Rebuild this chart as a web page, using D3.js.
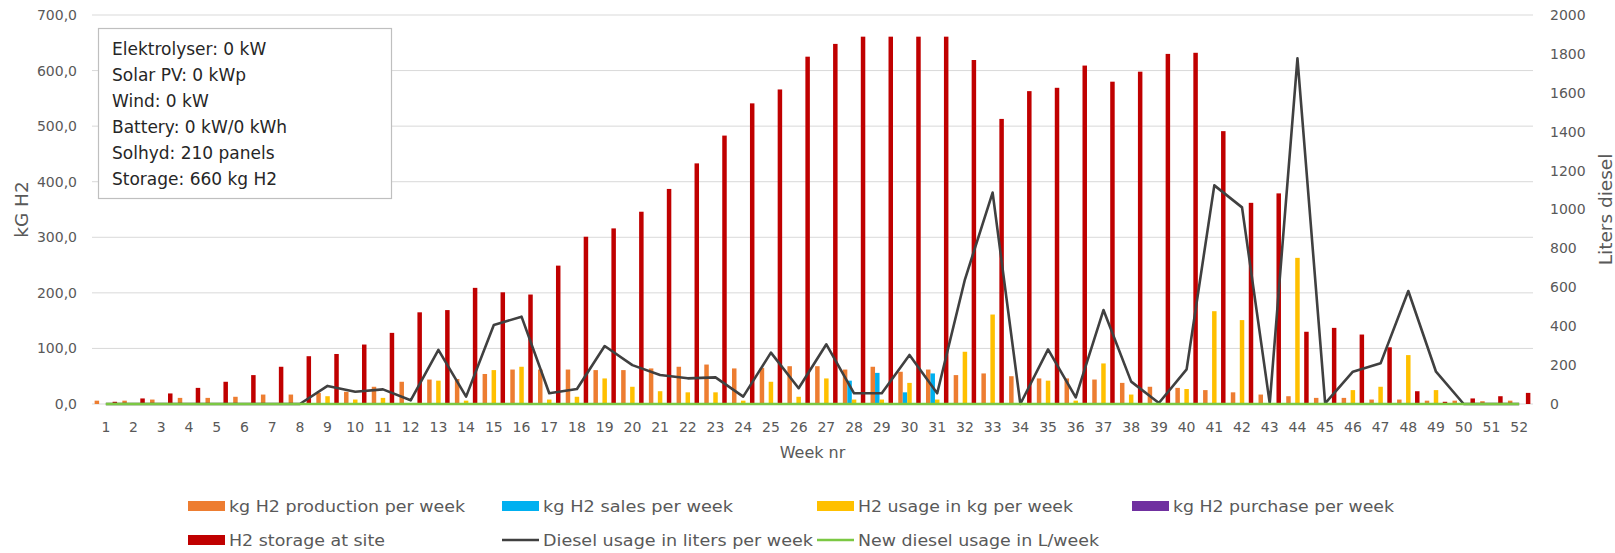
<!DOCTYPE html>
<html>
<head>
<meta charset="utf-8">
<script src="https://cdn.jsdelivr.net/npm/d3@7/dist/d3.min.js"></script>
<style>
  html, body { margin: 0; padding: 0; background: #fff; }
  svg { display: block; }
  .ax text { font-family: "DejaVu Sans", Verdana, sans-serif; font-size: 14px; fill: #595959; }
  .legend text { font-family: "DejaVu Sans", Verdana, sans-serif; font-size: 16.5px; fill: #595959; }
</style>
</head>
<body>
<svg id="chart" width="1615" height="553"></svg>
<script>
const weeks = ["1","2","3","4","5","6","7","8","9","10","11","12","13","14","15","16","17","18","19","20","21","22","23","24","25","26","27","28","29","30","31","32","33","34","35","36","37","38","39","40","41","42","43","44","45","46","47","48","49","50","51","52"];

const production = [6,6,8,11,11,13,17,17,20,22,31,40,44,45,54,62,62,62,61,61,64,67,71,64,65,68,68,62,67,58,62,52,55,50,46,46,44,38,31,29,25,21,17,14,11,11,8,8,6,6,5,6];
const sales      = [0,0,0,0,0,0,0,0,0,0,0,0,0,0,0,0,0,0,0,0,0,0,0,0,0,0,0,42,56,21,55,0,0,0,0,0,0,0,0,0,0,0,0,0,0,0,0,0,0,0,0,0];
const usage      = [0,0,0,0,0,0,0,0,14,8,11,0,42,6,61,67,8,13,46,31,23,21,21,6,40,13,46,8,8,38,8,94,161,0,42,6,73,17,0,27,167,151,0,263,0,25,31,88,25,0,0,0];
const purchase   = [0,0,0,0,0,0,0,0,0,0,0,0,0,0,0,0,0,0,0,0,0,0,0,0,0,0,0,0,0,0,0,0,0,0,0,0,0,0,0,0,0,0,0,0,0,0,0,0,0,0,0,0];
const storage    = [4,10,19,29,40,52,67,86,90,107,128,165,169,209,201,197,249,301,316,346,387,433,483,541,566,625,648,661,661,661,661,619,513,563,569,609,580,598,630,632,491,362,379,130,137,125,102,23,4,10,14,20];
const diesel     = [0,0,0,0,0,0,0,0,93,63,75,19,278,38,406,449,55,77,298,200,149,132,137,38,264,81,307,55,55,252,55,640,1087,0,281,34,483,115,5,178,1124,1011,3,1777,3,166,209,581,166,0,0,0];
const newDiesel  = [0,0,0,0,0,0,0,0,0,0,0,0,0,0,0,0,0,0,0,0,0,0,0,0,0,0,0,0,0,0,0,0,0,0,0,0,0,0,0,0,0,0,0,0,0,0,0,0,0,0,0,0];

const leftTicks  = [0,100,200,300,400,500,600,700];
const rightTicks = [0,200,400,600,800,1000,1200,1400,1600,1800,2000];

const barSeries = [
  {name: "kg H2 production per week", values: production, color: "#ED7D31"},
  {name: "kg H2 sales per week",      values: sales,      color: "#00B0F0"},
  {name: "H2 usage in kg per week",   values: usage,      color: "#FFC000"},
  {name: "kg H2 purchase per week",   values: purchase,   color: "#7030A0"},
  {name: "H2 storage at site",        values: storage,    color: "#C00000"}
];
const lineSeries = [
  {name: "Diesel usage in liters per week", values: diesel,    color: "#404040"},
  {name: "New diesel usage in L/week",      values: newDiesel, color: "#7BC843"}
];
const infoLines = ["Elektrolyser: 0 kW","Solar PV: 0 kWp","Wind: 0 kW","Battery: 0 kW/0 kWh","Solhyd: 210 panels","Storage: 660 kg H2"];

const svg = d3.select("#chart");
const L = 92, R = 1533, T = 15, B = 404;

const x = d3.scaleBand().domain(weeks).range([L, R]).paddingInner(0.19).paddingOuter(0.095);
const xs = d3.scaleBand().domain(barSeries.map(s => s.name)).range([0, x.bandwidth()]).padding(0);
const yL = d3.scaleLinear().domain([0, 700]).range([B, T]);
const yR = d3.scaleLinear().domain([0, 2000]).range([B, T]);

// gridlines
svg.append("g").selectAll("line").data(leftTicks).join("line")
  .attr("x1", L).attr("x2", R)
  .attr("y1", d => yL(d)).attr("y2", d => yL(d))
  .attr("stroke", "#d9d9d9").attr("stroke-width", 1);

// bars
barSeries.forEach(s => {
  svg.append("g").selectAll("rect").data(s.values).join("rect")
    .attr("x", (d, i) => x(weeks[i]) + xs(s.name))
    .attr("width", xs.bandwidth())
    .attr("y", d => yL(d))
    .attr("height", d => B - yL(d))
    .attr("fill", s.color);
});

// lines (right axis)
lineSeries.forEach(s => {
  const line = d3.line()
    .x((d, i) => x(weeks[i]) + x.bandwidth() / 2)
    .y(d => yR(d));
  svg.append("path").datum(s.values)
    .attr("d", line)
    .attr("fill", "none")
    .attr("stroke", s.color)
    .attr("stroke-width", 2.6)
    .attr("stroke-linejoin", "round");
});

// axes
const fmt = d => d3.format(".1f")(d).replace(".", ",");
const gl = svg.append("g").attr("class", "ax").attr("transform", `translate(${L},0)`)
  .call(d3.axisLeft(yL).tickValues(leftTicks).tickFormat(fmt).tickSize(0).tickPadding(15));
gl.select(".domain").remove();

const gr = svg.append("g").attr("class", "ax").attr("transform", `translate(${R},0)`)
  .call(d3.axisRight(yR).tickValues(rightTicks).tickFormat(d3.format("d")).tickSize(0).tickPadding(17));
gr.select(".domain").remove();

const gx = svg.append("g").attr("class", "ax").attr("transform", `translate(0,${B})`)
  .call(d3.axisBottom(x).tickSize(0).tickPadding(18));
gx.select(".domain").remove();
svg.selectAll(".ax text").attr("font-size", null).attr("font-family", null);

// axis titles
svg.append("text").attr("transform", `translate(21,${(T + B) / 2}) rotate(-90)`)
  .attr("text-anchor", "middle").attr("dominant-baseline", "central")
  .attr("font-family", "DejaVu Sans, Verdana, sans-serif").attr("font-size", 18.5).attr("fill", "#595959")
  .text("kG H2");
svg.append("text").attr("transform", `translate(1605,${(T + B) / 2}) rotate(-90)`)
  .attr("text-anchor", "middle").attr("dominant-baseline", "central")
  .attr("font-family", "DejaVu Sans, Verdana, sans-serif").attr("font-size", 18.5).attr("fill", "#595959")
  .text("Liters diesel");
svg.append("text").attr("x", (L + R) / 2).attr("y", 452)
  .attr("text-anchor", "middle").attr("dominant-baseline", "central")
  .attr("font-family", "DejaVu Sans, Verdana, sans-serif").attr("font-size", 16).attr("fill", "#595959")
  .text("Week nr");

// info box
const box = svg.append("g");
box.append("rect").attr("x", 98.5).attr("y", 28.5).attr("width", 293).attr("height", 170)
  .attr("fill", "#fff").attr("stroke", "#bfbfbf").attr("stroke-width", 1.2);
box.selectAll("text").data(infoLines).join("text")
  .attr("x", 112).attr("y", (d, i) => 48.5 + i * 26)
  .attr("dominant-baseline", "central")
  .attr("font-family", "DejaVu Sans, Verdana, sans-serif").attr("font-size", 17).attr("fill", "#262626")
  .text(d => d);

// legend
const legendItems = [
  {name: barSeries[0].name, color: barSeries[0].color, type: "rect", x: 188, y: 506, w: 236},
  {name: barSeries[1].name, color: barSeries[1].color, type: "rect", x: 502, y: 506, w: 190},
  {name: barSeries[2].name, color: barSeries[2].color, type: "rect", x: 817, y: 506, w: 215},
  {name: barSeries[3].name, color: barSeries[3].color, type: "rect", x: 1132, y: 506, w: 221},
  {name: barSeries[4].name, color: barSeries[4].color, type: "rect", x: 188, y: 540, w: 156},
  {name: lineSeries[0].name, color: lineSeries[0].color, type: "line", x: 502, y: 540, w: 270},
  {name: lineSeries[1].name, color: lineSeries[1].color, type: "line", x: 817, y: 540, w: 241}
];
const lg = svg.append("g").attr("class", "legend");
legendItems.forEach(it => {
  const g = lg.append("g").attr("transform", `translate(${it.x},${it.y})`);
  if (it.type === "rect") {
    g.append("rect").attr("x", 0).attr("y", -5).attr("width", 37).attr("height", 10).attr("fill", it.color);
  } else {
    g.append("line").attr("x1", 0).attr("x2", 37).attr("y1", 0).attr("y2", 0)
      .attr("stroke", it.color).attr("stroke-width", 2.6);
  }
  g.append("text").attr("x", 41).attr("y", 0).attr("dominant-baseline", "central")
    .attr("textLength", it.w).attr("lengthAdjust", "spacingAndGlyphs")
    .text(it.name);
});
</script>
</body>
</html>
